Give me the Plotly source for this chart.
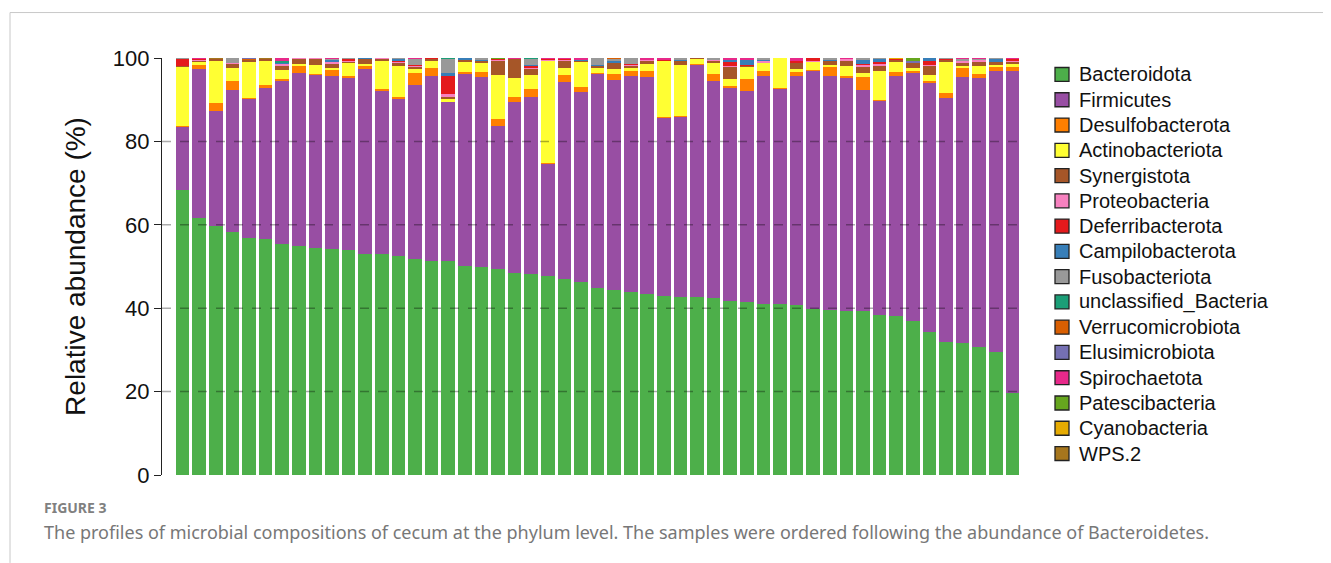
import plotly.graph_objects as go

samples = [f"S{i}" for i in range(1, 52)]

bacteroidota = [68.3, 61.6, 59.7, 58.3, 56.9, 56.6, 55.3, 55.0, 54.4, 54.1,
                53.9, 53.0, 52.9, 52.6, 51.7, 51.3, 51.3, 50.1, 50.0, 49.3,
                48.4, 48.2, 47.8, 46.9, 46.2, 44.8, 44.4, 43.8, 43.4, 43.0,
                42.8, 42.6, 42.4, 41.7, 41.4, 41.0, 41.0, 40.7, 39.8, 39.5,
                39.3, 39.3, 38.3, 38.2, 37.0, 34.3, 31.9, 31.7, 30.7, 29.4,
                19.7]
firmicutes = [15.3, 35.8, 27.7, 34.1, 33.3, 36.3, 39.1, 41.4, 41.6, 41.7,
              41.4, 44.4, 39.1, 37.8, 41.9, 44.3, 38.1, 46.3, 45.4, 34.3,
              41.0, 42.4, 27.0, 47.3, 45.6, 51.4, 50.4, 52.0, 52.0, 42.8,
              43.2, 55.8, 52.0, 51.3, 50.6, 54.6, 51.8, 55.1, 57.2, 56.1,
              55.9, 53.1, 51.5, 57.4, 59.4, 59.9, 58.5, 63.7, 64.5, 67.6,
              77.1]
desulfobacterota = [0.1, 1.0, 1.8, 2.2, 0.1, 0.6, 0.5, 1.8, 0.2, 1.4,
                    0.5, 0.6, 0.6, 0.2, 2.7, 2.0, 0.0, 0.2, 1.2, 1.8,
                    1.2, 2.0, 0.1, 1.8, 1.2, 0.2, 1.4, 1.2, 1.6, 0.1,
                    0.1, 0.1, 1.8, 0.3, 3.0, 1.2, 0.1, 0.9, 0.1, 2.3,
                    0.5, 3.0, 0.2, 1.0, 0.6, 0.3, 1.2, 2.2, 1.0, 0.8,
                    1.0]
actinobacteriota = [14.2, 0.8, 10.0, 3.0, 8.8, 6.0, 2.2, 0.4, 2.2, 0.3,
                    3.2, 0.5, 6.6, 7.4, 1.0, 1.7, 0.8, 2.6, 2.2, 10.6,
                    4.6, 3.4, 24.6, 1.6, 6.2, 1.1, 1.2, 0.8, 1.6, 13.4,
                    12.2, 1.3, 2.6, 1.6, 3.0, 2.0, 7.1, 0.7, 2.0, 0.5,
                    2.3, 1.0, 6.8, 2.4, 0.6, 1.4, 7.6, 0.6, 2.0, 0.6,
                    0.8]
synergistota = [0.2, 0.3, 0.6, 1.0, 0.6, 0.3, 1.2, 1.2, 1.4, 1.0,
                0.1, 1.4, 0.6, 1.0, 0.6, 0.6, 0.4, 0.4, 0.6, 3.4,
                4.6, 1.5, 0.0, 1.8, 0.1, 0.6, 1.4, 0.3, 0.8, 0.1,
                1.0, 0.2, 0.6, 3.0, 0.1, 0.2, 0.0, 1.4, 0.0, 1.0,
                1.3, 1.5, 1.2, 0.6, 1.3, 2.2, 0.4, 0.6, 1.0, 0.6,
                0.6]
proteobacteria = [0.0, 0.2, 0.0, 0.2, 0.0, 0.0, 0.3, 0.2, 0.2, 0.6,
                  0.2, 0.0, 0.2, 0.2, 0.2, 0.0, 0.8, 0.0, 0.1, 0.2,
                  0.0, 0.3, 0.1, 0.2, 0.0, 0.1, 0.2, 0.3, 0.2, 0.0,
                  0.0, 0.0, 0.2, 0.3, 0.1, 0.3, 0.0, 0.2, 0.1, 0.0,
                  0.5, 0.5, 0.6, 0.0, 0.0, 0.3, 0.0, 0.4, 0.4, 0.0,
                  0.3]
deferribacterota = [1.8, 0.2, 0.0, 0.0, 0.0, 0.0, 0.0, 0.0, 0.0, 0.1,
                    0.6, 0.0, 0.0, 0.2, 0.2, 0.1, 4.2, 0.0, 0.0, 0.2,
                    0.1, 0.4, 0.2, 0.2, 0.2, 0.0, 0.0, 0.2, 0.0, 0.1,
                    0.0, 0.0, 0.0, 0.8, 0.2, 0.0, 0.0, 0.2, 0.8, 0.0,
                    0.0, 0.2, 0.4, 0.2, 0.0, 1.0, 0.2, 0.0, 0.0, 0.0,
                    0.3]
campilobacterota = [0.0, 0.0, 0.0, 0.0, 0.0, 0.0, 0.4, 0.0, 0.0, 0.4,
                    0.0, 0.1, 0.0, 0.4, 0.0, 0.0, 0.8, 0.4, 0.2, 0.0,
                    0.0, 0.2, 0.0, 0.0, 0.2, 0.2, 0.3, 0.0, 0.0, 0.0,
                    0.3, 0.0, 0.0, 0.6, 1.3, 0.3, 0.0, 0.0, 0.0, 0.2,
                    0.0, 1.0, 0.8, 0.0, 0.0, 0.6, 0.0, 0.0, 0.0, 0.8,
                    0.0]
fusobacteriota = [0.2, 0.0, 0.0, 1.2, 0.0, 0.0, 0.0, 0.0, 0.0, 0.2,
                  0.1, 0.0, 0.0, 0.2, 1.6, 0.0, 3.4, 0.0, 0.3, 0.0,
                  0.0, 1.4, 0.0, 0.0, 0.0, 1.6, 0.6, 1.4, 0.0, 0.0,
                  0.4, 0.0, 0.4, 0.0, 0.0, 0.4, 0.0, 0.0, 0.0, 0.4,
                  0.0, 0.4, 0.2, 0.0, 0.1, 0.0, 0.2, 0.6, 0.3, 0.2,
                  0.0]
unclassified_bacteria = [0.0, 0.0, 0.0, 0.0, 0.0, 0.0, 0.2, 0.0, 0.0, 0.0,
                         0.0, 0.0, 0.0, 0.0, 0.0, 0.0, 0.2, 0.0, 0.0, 0.0,
                         0.0, 0.2, 0.0, 0.0, 0.0, 0.0, 0.0, 0.0, 0.0, 0.0,
                         0.0, 0.0, 0.0, 0.0, 0.0, 0.0, 0.0, 0.0, 0.0, 0.0,
                         0.0, 0.0, 0.0, 0.0, 0.0, 0.0, 0.0, 0.0, 0.0, 0.0,
                         0.0]
verrucomicrobiota = [0.0, 0.0, 0.0, 0.0, 0.1, 0.0, 0.0, 0.0, 0.0, 0.1,
                     0.0, 0.0, 0.0, 0.0, 0.0, 0.0, 0.0, 0.0, 0.0, 0.0,
                     0.0, 0.0, 0.0, 0.0, 0.0, 0.0, 0.1, 0.0, 0.0, 0.0,
                     0.0, 0.0, 0.0, 0.0, 0.0, 0.0, 0.0, 0.0, 0.0, 0.0,
                     0.0, 0.0, 0.0, 0.0, 0.0, 0.0, 0.0, 0.0, 0.0, 0.0,
                     0.0]
elusimicrobiota = [0.0, 0.0, 0.0, 0.0, 0.2, 0.0, 0.0, 0.0, 0.0, 0.0,
                   0.0, 0.0, 0.0, 0.0, 0.0, 0.0, 0.0, 0.0, 0.0, 0.0,
                   0.0, 0.0, 0.0, 0.0, 0.0, 0.0, 0.0, 0.0, 0.0, 0.0,
                   0.0, 0.0, 0.0, 0.0, 0.0, 0.0, 0.0, 0.0, 0.0, 0.0,
                   0.0, 0.0, 0.0, 0.0, 0.2, 0.0, 0.0, 0.0, 0.0, 0.0,
                   0.0]
spirochaetota = [0.0, 0.1, 0.0, 0.0, 0.0, 0.0, 0.8, 0.0, 0.0, 0.1,
                 0.0, 0.0, 0.0, 0.0, 0.1, 0.0, 0.0, 0.0, 0.0, 0.0,
                 0.1, 0.0, 0.2, 0.2, 0.3, 0.0, 0.0, 0.0, 0.4, 0.5,
                 0.0, 0.0, 0.0, 0.4, 0.3, 0.0, 0.0, 0.8, 0.0, 0.0,
                 0.2, 0.0, 0.0, 0.0, 0.0, 0.0, 0.0, 0.2, 0.1, 0.0,
                 0.2]
patescibacteria = [0.0, 0.0, 0.0, 0.0, 0.0, 0.0, 0.0, 0.0, 0.0, 0.0,
                   0.0, 0.0, 0.0, 0.0, 0.0, 0.0, 0.0, 0.0, 0.0, 0.2,
                   0.0, 0.0, 0.0, 0.0, 0.0, 0.0, 0.0, 0.0, 0.0, 0.0,
                   0.0, 0.0, 0.0, 0.0, 0.0, 0.0, 0.0, 0.0, 0.0, 0.0,
                   0.0, 0.0, 0.0, 0.0, 0.8, 0.0, 0.0, 0.0, 0.0, 0.0,
                   0.0]
cyanobacteria = [0.0, 0.0, 0.0, 0.0, 0.0, 0.0, 0.0, 0.0, 0.0, 0.0,
                 0.0, 0.0, 0.0, 0.0, 0.0, 0.0, 0.0, 0.0, 0.0, 0.0,
                 0.0, 0.0, 0.0, 0.0, 0.0, 0.0, 0.0, 0.0, 0.0, 0.0,
                 0.0, 0.0, 0.0, 0.0, 0.0, 0.0, 0.0, 0.0, 0.0, 0.0,
                 0.0, 0.0, 0.0, 0.2, 0.0, 0.0, 0.0, 0.0, 0.0, 0.0,
                 0.0]
wps2 = [0.0, 0.0, 0.2, 0.0, 0.0, 0.2, 0.0, 0.0, 0.0, 0.0,
        0.0, 0.0, 0.0, 0.0, 0.0, 0.0, 0.0, 0.0, 0.0, 0.0,
        0.0, 0.0, 0.0, 0.0, 0.0, 0.0, 0.0, 0.0, 0.0, 0.0,
        0.0, 0.0, 0.0, 0.0, 0.0, 0.0, 0.0, 0.0, 0.0, 0.0,
        0.0, 0.0, 0.0, 0.0, 0.0, 0.0, 0.0, 0.0, 0.0, 0.0,
        0.0]

phyla = ["Bacteroidota", "Firmicutes", "Desulfobacterota", "Actinobacteriota",
         "Synergistota", "Proteobacteria", "Deferribacterota", "Campilobacterota",
         "Fusobacteriota", "unclassified_Bacteria", "Verrucomicrobiota",
         "Elusimicrobiota", "Spirochaetota", "Patescibacteria", "Cyanobacteria", "WPS.2"]
series = [bacteroidota, firmicutes, desulfobacterota, actinobacteriota,
          synergistota, proteobacteria, deferribacterota, campilobacterota,
          fusobacteriota, unclassified_bacteria, verrucomicrobiota,
          elusimicrobiota, spirochaetota, patescibacteria, cyanobacteria, wps2]
colors = ["#4DAF4A", "#984EA3", "#FF7F00", "#FFFF33", "#A65628", "#F781BF",
          "#E41A1C", "#377EB8", "#999999", "#1B9E77", "#D95F02", "#7570B3",
          "#E7298A", "#66A61E", "#E6AB02", "#A6761D"]

ARIAL = "Liberation Sans, Arial, sans-serif"
CAPF = "Noto Sans, Open Sans, sans-serif"

# page body has an 8px margin: figure is drawn from (8, 8)
OFF = 8
W, H = 1331 - OFF, 563 - OFF
PL, PR = 162 - OFF, 1033 - OFF      # plot area left / right (px in figure)
PT, PB = 57.5 - OFF, 475 - OFF      # plot area top / bottom


def px(xp):
    return (xp - OFF - PL) / (PR - PL)


def py(yp):
    return (PB - (yp - OFF)) / (PB - PT)


fig = go.Figure()
for name, vals, col in zip(phyla, series, colors):
    fig.add_trace(go.Bar(x=samples, y=vals, name=name, showlegend=False,
                         marker=dict(color=col, line=dict(width=0))))

fig.update_layout(
    width=W, height=H,
    barmode="stack", bargap=0.18,
    plot_bgcolor="white", paper_bgcolor="white",
    margin=dict(l=PL, r=W - PR, t=PT, b=H - PB, autoexpand=False),
    font=dict(family=ARIAL, color="#111111"),
    showlegend=False,
)
fig.update_xaxes(showticklabels=False, ticks="", showgrid=False, showline=False,
                 zeroline=False, range=[-1.24, 51.24], fixedrange=True)
fig.update_yaxes(range=[0, 100], tickvals=[0, 20, 40, 60, 80, 100],
                 ticks="outside", ticklen=7, tickwidth=1.3, tickcolor="#222",
                 showline=True, linecolor="#222", linewidth=1.3,
                 showgrid=False, zeroline=False,
                 tickfont=dict(size=22, color="#111", family=ARIAL),
                 title=dict(text="Relative abundance (%)",
                            font=dict(size=28, color="#111", family=ARIAL),
                            standoff=18))
for gv in [20, 40, 60, 80]:
    fig.add_shape(type="line", xref="paper", yref="y", x0=0, x1=px(1022), y0=gv, y1=gv,
                  line=dict(color="rgba(0,0,0,0.33)", width=1.5, dash="dash"), layer="above")

# manual legend
LEG_Y0, LEG_STEP = 74.0, 25.3
for i, (name, col) in enumerate(zip(phyla, colors)):
    yc = LEG_Y0 + i * LEG_STEP
    fig.add_shape(type="rect", xref="paper", yref="paper",
                  x0=px(1055), x1=px(1069), y0=py(yc + 7), y1=py(yc - 7),
                  fillcolor=col, line=dict(color="#222222", width=1.3), layer="above")
    fig.add_annotation(text=name, xref="paper", yref="paper",
                       x=px(1077), y=py(yc), xanchor="left", yanchor="middle",
                       showarrow=False, font=dict(family=ARIAL, size=20, color="#111111"))

# page frame lines
fig.add_shape(type="line", xref="paper", yref="paper",
              x0=px(10), x1=px(1331), y0=py(12), y1=py(12),
              line=dict(color="#c8c8c8", width=1))
fig.add_shape(type="line", xref="paper", yref="paper",
              x0=px(10), x1=px(10), y0=py(12), y1=py(563),
              line=dict(color="#c8c8c8", width=1))

fig.add_annotation(text="<b>FIGURE 3</b>", xref="paper", yref="paper",
                   x=px(42), y=py(508), xanchor="left", yanchor="middle", showarrow=False,
                   font=dict(family=CAPF, size=14, color="#808080"))
fig.add_annotation(text="The profiles of microbial compositions of cecum at the phylum level. "
                        "The samples were ordered following the abundance of Bacteroidetes.",
                   xref="paper", yref="paper",
                   x=px(42), y=py(532), xanchor="left", yanchor="middle", showarrow=False,
                   font=dict(family=CAPF, size=18, color="#777777"))

fig.write_html("out.html")
